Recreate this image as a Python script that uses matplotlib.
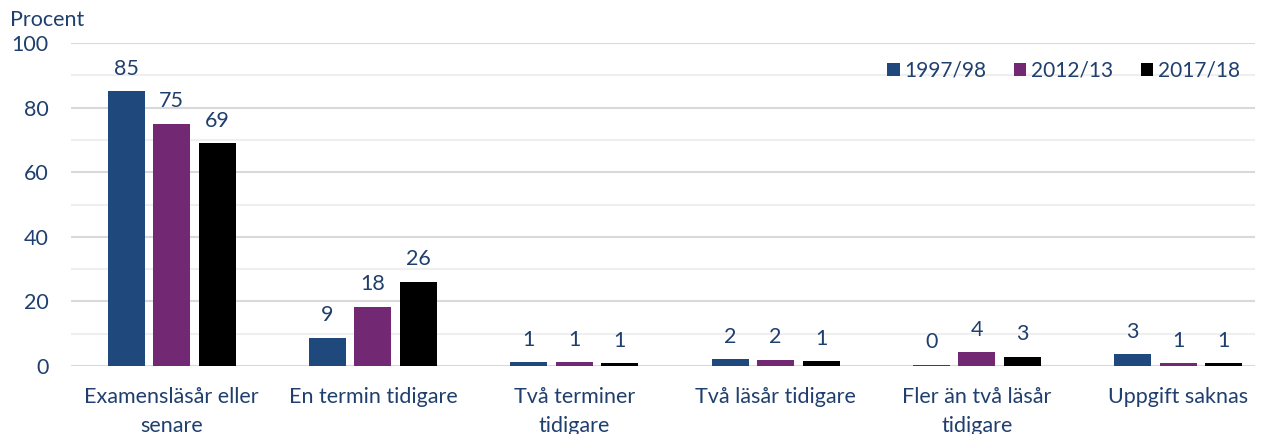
import matplotlib
matplotlib.use("Agg")
import matplotlib.pyplot as plt
import numpy as np

categories = ["Examensläsår eller\nsenare", "En termin tidigare", "Två terminer\ntidigare",
              "Två läsår tidigare", "Fler än två läsår\ntidigare", "Uppgift saknas"]
series_names = ["1997/98", "2012/13", "2017/18"]
v1997 = [85, 8.7, 1.2, 2.1, 0.4, 3.6]
v2012 = [75, 18.4, 1.1, 1.9, 4.2, 0.8]
v2017 = [69, 26.1, 0.8, 1.5, 2.8, 0.8]
labels1997 = ["85", "9", "1", "2", "0", "3"]
labels2012 = ["75", "18", "1", "2", "4", "1"]
labels2017 = ["69", "26", "1", "1", "3", "1"]

colors = ["#1F497D", "#722872", "#000000"]
txt = "#1F3F6E"
plt.rcParams['font.family'] = ['Lato', 'DejaVu Sans']

fig = plt.figure(figsize=(12.67, 4.34), dpi=100)
# axes from x=71 px to 1255 px, y=0 at 366 px, y=100 at 43 px
ax = fig.add_axes([71 / 1267, 1 - 366 / 434, (1255 - 71) / 1267, (366 - 43) / 434])

x = np.arange(len(categories))
w = 0.184
step = 0.226
for i, (vals, labs) in enumerate(zip([v1997, v2012, v2017], [labels1997, labels2012, labels2017])):
    pos = x + (i - 1) * step
    bars = ax.bar(pos, vals, width=w, color=colors[i], label=series_names[i], zorder=3)
    for b, l in zip(bars, labs):
        ax.annotate(l, (b.get_x() + b.get_width() / 2, b.get_height()),
                    xytext=(0, 9), textcoords="offset points", ha="center", va="bottom",
                    fontsize=15.5, color=txt)

ax.set_xlim(-0.5, -0.5 + (1255 - 71) / 201.3)
ax.set_ylim(0, 100)
ax.set_yticks(np.arange(0, 101, 20))
ax.set_yticks(np.arange(10, 100, 20), minor=True)
ax.grid(axis="y", which="major", color="#D9D9D9", linewidth=1.5, zorder=0)
ax.grid(axis="y", which="minor", color="#EFEFEF", linewidth=1.5, zorder=0)
ax.set_xticks(x)
ax.set_xticklabels(categories, fontsize=15.5, color=txt, linespacing=1.6, va="top")
ax.tick_params(axis="x", length=0, pad=15)
ax.tick_params(axis="y", which="both", length=0, labelsize=15.5, labelcolor=txt, pad=16)
for s in ax.spines.values():
    s.set_visible(False)

fig.text(10 / 1267, 1 - 20 / 434, "Procent", fontsize=15.5, color=txt, ha="left", va="center")

leg = ax.legend(loc="upper right", bbox_to_anchor=(1.0, 0.99), ncol=3, frameon=False,
                fontsize=15, handlelength=0.6, handleheight=0.6, handletextpad=0.25,
                columnspacing=1.3, borderaxespad=0.3)
for t in leg.get_texts():
    t.set_color(txt)

fig.savefig("out.png", dpi=100)
